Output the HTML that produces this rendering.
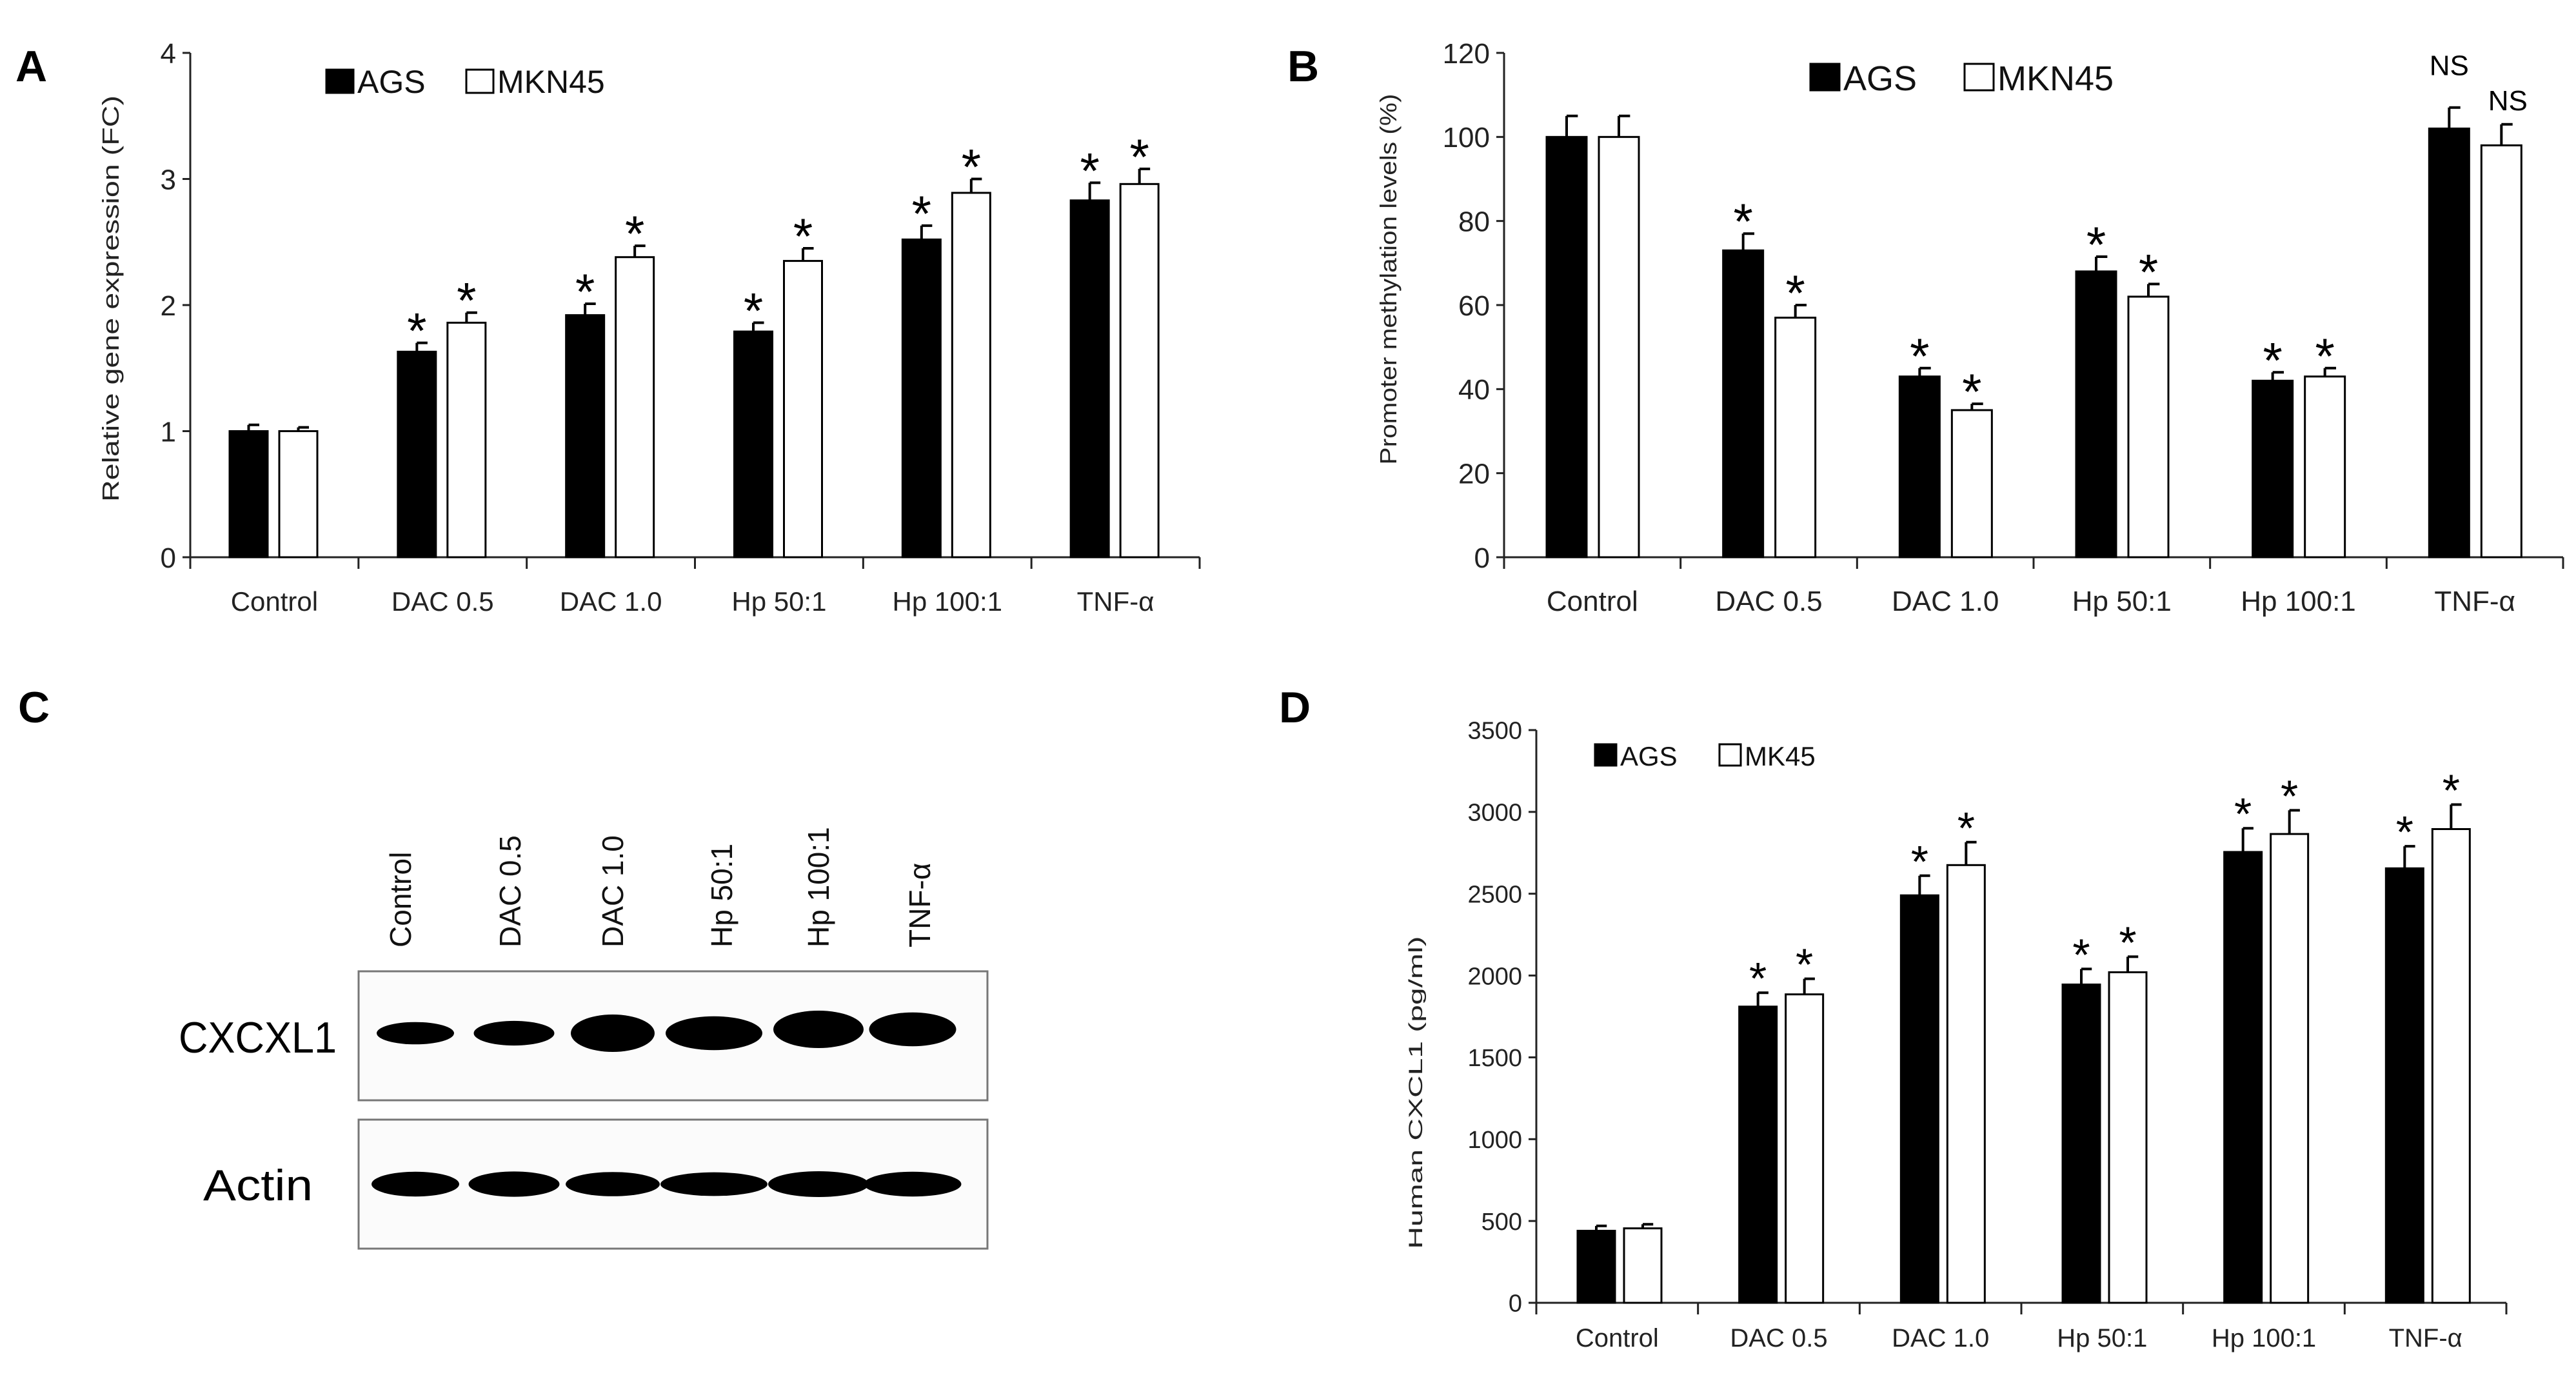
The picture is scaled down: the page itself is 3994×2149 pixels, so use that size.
<!DOCTYPE html>
<html><head><meta charset="utf-8"><style>
html,body{margin:0;padding:0;background:#fff;overflow:hidden;}
svg{display:block;font-family:"Liberation Sans",sans-serif;}
</style></head><body>
<svg id="fig" width="3994" height="2149" viewBox="0 0 3994 2149" xmlns="http://www.w3.org/2000/svg">
<rect x="0" y="0" width="3994" height="2149" fill="#fff"/>
<g id="gA"></g>
<g id="gB"></g>
<g id="gC">
  <text x="28" y="1120" font-size="68" font-weight="bold">C</text>
  <rect x="556" y="1506" width="975" height="200" fill="#fbfbfb" stroke="#777" stroke-width="3"/>
  <rect x="556" y="1736" width="975" height="200" fill="#fbfbfb" stroke="#777" stroke-width="3"/>
  <text x="522" y="1632" font-size="68" text-anchor="end" textLength="245" lengthAdjust="spacingAndGlyphs">CXCXL1</text>
  <text x="485" y="1861" font-size="68" text-anchor="end" textLength="170" lengthAdjust="spacingAndGlyphs">Actin</text>
</g>
<g id="gD"></g>
</svg>
<script>
// Panel A data
const catsA = ["Control","DAC 0.5","DAC 1.0","Hp 50:1","Hp 100:1","TNF-α"];
const agsA = [1.0,1.63,1.92,1.79,2.52,2.83];
const agsErrA = [0.05,0.07,0.09,0.07,0.11,0.14];
const mknA = [1.0,1.86,2.38,2.35,2.89,2.96];
const mknErrA = [0.03,0.08,0.09,0.10,0.11,0.12];
const ticksA = [0,1,2,3,4];
// Panel B data
const catsB = ["Control","DAC 0.5","DAC 1.0","Hp 50:1","Hp 100:1","TNF-α"];
const agsB = [100,73,43,68,42,102];
const agsErrB = [5,4,2,3.5,2,5];
const mknB = [100,57,35,62,43,98];
const mknErrB = [5,3,1.5,3,2,5];
const ticksB = [0,20,40,60,80,100,120];
const marksAgsB = ["","*","*","*","*","NS"];
const marksMknB = ["","*","*","*","*","NS"];
// Panel D data
const catsD = ["Control","DAC 0.5","DAC 1.0","Hp 50:1","Hp 100:1","TNF-α"];
const agsD = [440,1810,2490,1945,2755,2655];
const agsErrD = [30,85,120,95,145,135];
const mkD = [455,1885,2675,2020,2865,2895];
const mkErrD = [25,95,140,95,145,150];
const ticksD = [0,500,1000,1500,2000,2500,3000,3500];
// Panel C band data (relative intensity)
const laneLabels = ["Control","DAC 0.5","DAC 1.0","Hp 50:1","Hp 100:1","TNF-α"];
const cxclBand = [0.35,0.45,1.0,0.85,1.0,0.85];
const actinBand = [0.9,0.95,0.85,0.8,1.0,0.9];

const NS="http://www.w3.org/2000/svg";
function el(tag, attrs, parent){const e=document.createElementNS(NS,tag);for(const k in attrs)e.setAttribute(k,attrs[k]);parent.appendChild(e);return e;}

function chart(g, cfg){
  const yS=v=>cfg.y0-(v-cfg.min)/(cfg.max-cfg.min)*(cfg.y0-cfg.y1);
  const n=cfg.cats.length, cw=(cfg.x1-cfg.x0)/n;
  const ax=el('line',{x1:cfg.x0,y1:cfg.y1,x2:cfg.x0,y2:cfg.y0,stroke:'#222','stroke-width':3},g);
  
  
  const xx=el('line',{x1:cfg.x0,y1:cfg.y0,x2:cfg.x1,y2:cfg.y0,stroke:'#222','stroke-width':3},g);
  
  
  cfg.ticks.forEach(t=>{
    const y=yS(t);
    el('line',{x1:cfg.x0-12,y1:y,x2:cfg.x0,y2:y,stroke:'#222','stroke-width':3},g);
    const tx=el('text',{x:cfg.x0-22,y:y+cfg.tfs*0.36,'font-size':cfg.tfs,'text-anchor':'end',fill:'#222'},g);
    tx.textContent=t;
    
    
  });
  for(let i=0;i<=n;i++){el('line',{x1:cfg.x0+i*cw,y1:cfg.y0,x2:cfg.x0+i*cw,y2:cfg.y0+18,stroke:'#222','stroke-width':3},g);}
  cfg.cats.forEach((c,i)=>{
    const cx=cfg.x0+i*cw;
    const lb=el('text',{x:cx+cw/2,y:cfg.y0+cfg.labDy,'font-size':cfg.lfs,'text-anchor':'middle',fill:'#222'},g);
    lb.textContent=c;
    
    
    [[cfg.a,cfg.ae,cfg.boA,'#000',cfg.mA],[cfg.b,cfg.be,cfg.boB,'#fff',cfg.mB]].forEach((s,si)=>{
      const v=s[0][i], e=s[1][i], bx=cx+s[2], top=yS(v), et=yS(v+e);
      const bar=el('rect',{x:bx,y:top,width:cfg.bw,height:cfg.y0-top,fill:s[3],stroke:'#000','stroke-width':3},g);
      
      
      const mx=bx+cfg.bw/2;
      el('line',{x1:mx,y1:top,x2:mx,y2:et,stroke:'#000','stroke-width':4},g);
      el('line',{x1:mx,y1:et,x2:mx+cfg.bw*0.28,y2:et,stroke:'#000','stroke-width':4},g);
      const m=s[4]?s[4][i]:(i>0?'*':'');
      if(m){
        const isNS=m==='NS';
        const st=el('text',{x:mx+(isNS&&si?10:0),y:isNS?(si?et-22:et-50):et+cfg.starDy,'font-size':isNS?cfg.lfs:cfg.sfs,'text-anchor':'middle',fill:'#000'},g);
        st.textContent=m;
        
        
      }
    });
  });
  const yt=el('text',{x:0,y:0,'font-size':cfg.yfs,'text-anchor':'middle',fill:'#222',textLength:cfg.ytl,lengthAdjust:'spacingAndGlyphs',transform:`translate(${cfg.ytx},${(cfg.y0+cfg.y1)/2+cfg.ytdy}) rotate(-90)`},g);
  yt.textContent=cfg.ytitle;
  
  
  const pl=el('text',{x:cfg.plx,y:cfg.ply,'font-size':68,'font-weight':'bold',fill:'#000'},g);
  pl.textContent=cfg.pl;
  
  
  cfg.legend.forEach(L=>{
    const r=el('rect',{x:L.x,y:cfg.legY,width:cfg.legW,height:cfg.legH,fill:L.fill,stroke:'#000','stroke-width':3},g);
    
    
    const t=el('text',{x:L.x+cfg.legW+6,y:cfg.legY+cfg.legH,'font-size':cfg.legfs,fill:'#111'},g);
    t.textContent=L.t;
    
    
  });
}

chart(document.getElementById('gA'),{cats:catsA,a:agsA,ae:agsErrA,b:mknA,be:mknErrA,ticks:ticksA,min:0,max:4,
 x0:295,x1:1860,y0:864,y1:82,boA:61,boB:138,bw:59,tfs:44,lfs:42,yfs:36,ytl:630,ytdy:-10,sfs:78,starDy:8,labDy:83,
 ytx:184,ytitle:"Relative gene expression (FC)",pl:"A",plx:24,ply:126,
 legY:108,legW:42,legH:36,legfs:50,legend:[{x:506,fill:'#000',t:'AGS'},{x:723,fill:'#fff',t:'MKN45'}]});
chart(document.getElementById('gB'),{cats:catsB,a:agsB,ae:agsErrB,b:mknB,be:mknErrB,ticks:ticksB,min:0,max:120,
 x0:2332,x1:3974,y0:864,y1:82,boA:66,boB:147,bw:62,tfs:44,lfs:44,yfs:36,ytl:575,ytdy:-40,sfs:78,starDy:8,labDy:83,mA:marksAgsB,mB:marksMknB,
 ytx:2165,ytitle:"Promoter methylation levels (%)",pl:"B",plx:1996,ply:126,
 legY:99,legW:45,legH:41,legfs:54,legend:[{x:2807,fill:'#000',t:'AGS'},{x:3046,fill:'#fff',t:'MKN45'}]});
chart(document.getElementById('gD'),{cats:catsD,a:agsD,ae:agsErrD,b:mkD,be:mkErrD,ticks:ticksD,min:0,max:3500,
 x0:2382,x1:3886,y0:2020,y1:1132,boA:64,boB:136,bw:58,tfs:38,lfs:40,yfs:30,ytl:485,ytdy:118,sfs:70,starDy:2,labDy:68,
 ytx:2205,ytitle:"Human CXCL1 (pg/ml)",pl:"D",plx:1983,ply:1120,
 legY:1154,legW:33,legH:33,legfs:42,legend:[{x:2473,fill:'#000',t:'AGS'},{x:2666,fill:'#fff',t:'MK45'}]});

// Panel C
const gC=document.getElementById('gC');
const laneX=[621,791,950,1119,1269,1426];
const bandX=[644,797,950,1107,1269,1415];
laneLabels.forEach((l,i)=>{
  const t=el('text',{x:0,y:0,'font-size':46,'text-anchor':'start',fill:'#111',transform:`translate(${laneX[i]+16},1469) rotate(-90)`},gC);
  t.textContent=l;
  
  
  const w=[120,125,130,150,140,135][i];
  const hc=22+36*cxclBand[i];
  const b=el('ellipse',{cx:bandX[i],cy:1602-(i>=4?6:0),rx:w/2,ry:hc/2,fill:'#000'},gC);
  
  
  const a=el('ellipse',{cx:bandX[i],cy:1836,rx:w/2+8,ry:12+8*actinBand[i],fill:'#000'},gC);
  
  
});
</script>
</body></html>
